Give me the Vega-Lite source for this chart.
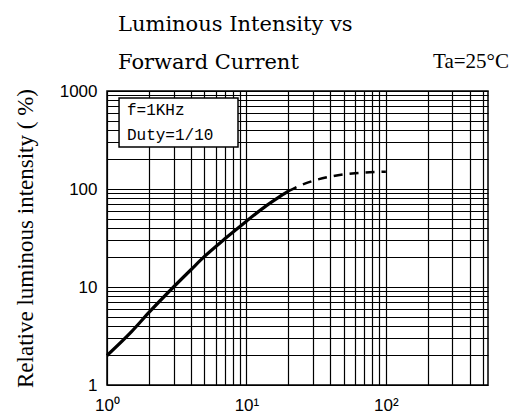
{
  "$schema": "https://vega.github.io/schema/vega-lite/v6.json",
  "width": 381,
  "height": 294,
  "autosize": "none",
  "padding": {"left": 107, "top": 91, "right": 27, "bottom": 34},
  "background": "white",
  "config": {
    "view": {"stroke": "black", "strokeWidth": 1.5},
    "axis": {
      "grid": true,
      "gridColor": "black",
      "gridOpacity": 1,
      "gridWidth": 1.2,
      "ticks": false,
      "domain": false,
      "labelColor": "black",
      "labelFont": "Liberation Sans",
      "labelFontSize": 17,
      "labelOverlap": false,
      "labelFlush": false,
      "labelBound": false
    }
  },
  "title": {
    "text": ["Luminous Intensity vs", "Forward Current"],
    "anchor": "start",
    "frame": "group",
    "dx": 11,
    "dy": 42,
    "font": "DejaVu Serif",
    "fontSize": 21,
    "fontWeight": "normal",
    "color": "black",
    "lineHeight": 38,
    "offset": 20
  },
  "datasets": {
    "curve": [
      {"I": 1, "L": 2.0, "seg": "solid"},
      {"I": 1.5, "L": 3.5, "seg": "solid"},
      {"I": 2, "L": 5.5, "seg": "solid"},
      {"I": 3, "L": 10, "seg": "solid"},
      {"I": 4, "L": 15, "seg": "solid"},
      {"I": 5, "L": 20.5, "seg": "solid"},
      {"I": 7, "L": 31, "seg": "solid"},
      {"I": 10, "L": 47, "seg": "solid"},
      {"I": 14, "L": 68, "seg": "solid"},
      {"I": 17, "L": 82, "seg": "solid"},
      {"I": 20, "L": 95, "seg": "solid"},
      {"I": 20, "L": 95, "seg": "dashed"},
      {"I": 24, "L": 108, "seg": "dashed"},
      {"I": 30, "L": 121, "seg": "dashed"},
      {"I": 40, "L": 134, "seg": "dashed"},
      {"I": 60, "L": 145, "seg": "dashed"},
      {"I": 100, "L": 150, "seg": "dashed"}
    ],
    "single": [{"k": 1}]
  },
  "layer": [
    {
      "data": {"name": "curve"},
      "transform": [{"filter": "datum.seg == 'solid'"}],
      "mark": {"type": "line", "color": "black", "strokeWidth": 3.2, "interpolate": "monotone"},
      "encoding": {
        "x": {
          "field": "I",
          "type": "quantitative",
          "scale": {"type": "log", "domain": [1, 540], "nice": false},
          "axis": {
            "title": null,
            "values": [1, 2, 3, 4, 5, 6, 7, 8, 9, 10, 20, 30, 40, 50, 60, 70, 80, 90, 100, 200, 300, 400, 500],
            "labelExpr": "datum.value == 1 ? '10⁰' : datum.value == 10 ? '10¹' : datum.value == 100 ? '10²' : ''",
            "labelPadding": 12
          }
        },
        "y": {
          "field": "L",
          "type": "quantitative",
          "scale": {"type": "log", "domain": [1, 1000], "nice": false},
          "axis": {
            "title": "Relative luminous intensity ( %)",
            "titleFont": "Liberation Serif, Times New Roman, serif",
            "titleFontSize": 23,
            "titleFontWeight": "normal",
            "titleColor": "black",
            "titlePadding": 22,
            "values": [1, 2, 3, 4, 5, 6, 7, 8, 9, 10, 20, 30, 40, 50, 60, 70, 80, 90, 100, 200, 300, 400, 500, 600, 700, 800, 900, 1000],
            "labelExpr": "indexof([1, 10, 100, 1000], datum.value) >= 0 ? format(datum.value, 'd') : ''",
            "labelPadding": 10
          }
        }
      }
    },
    {
      "data": {"name": "curve"},
      "transform": [{"filter": "datum.seg == 'dashed'"}],
      "mark": {"type": "line", "color": "black", "strokeWidth": 2.5, "strokeDash": [9, 7], "interpolate": "monotone"},
      "encoding": {
        "x": {"field": "I", "type": "quantitative"},
        "y": {"field": "L", "type": "quantitative"}
      }
    },
    {
      "data": {"name": "single"},
      "mark": {"type": "rect", "fill": "white", "stroke": "black", "strokeWidth": 1.5},
      "encoding": {
        "x": {"datum": 1.22, "type": "quantitative"},
        "x2": {"datum": 8.7},
        "y": {"datum": 849, "type": "quantitative"},
        "y2": {"datum": 268}
      }
    },
    {
      "data": {"name": "single"},
      "mark": {"type": "text", "text": "f=1KHz", "font": "Liberation Mono", "fontSize": 16, "align": "left", "baseline": "middle", "color": "black"},
      "encoding": {
        "x": {"datum": 1.39, "type": "quantitative"},
        "y": {"datum": 640, "type": "quantitative"}
      }
    },
    {
      "data": {"name": "single"},
      "mark": {"type": "text", "text": "Duty=1/10", "font": "Liberation Mono", "fontSize": 16, "align": "left", "baseline": "middle", "color": "black"},
      "encoding": {
        "x": {"datum": 1.39, "type": "quantitative"},
        "y": {"datum": 356, "type": "quantitative"}
      }
    },
    {
      "data": {"name": "single"},
      "mark": {"type": "text", "text": "Ta=25°C", "font": "Liberation Serif", "fontSize": 21, "align": "left", "baseline": "middle", "color": "black"},
      "encoding": {
        "x": {"datum": 218, "type": "quantitative"},
        "y": {"datum": 1977, "type": "quantitative"}
      }
    }
  ]
}
